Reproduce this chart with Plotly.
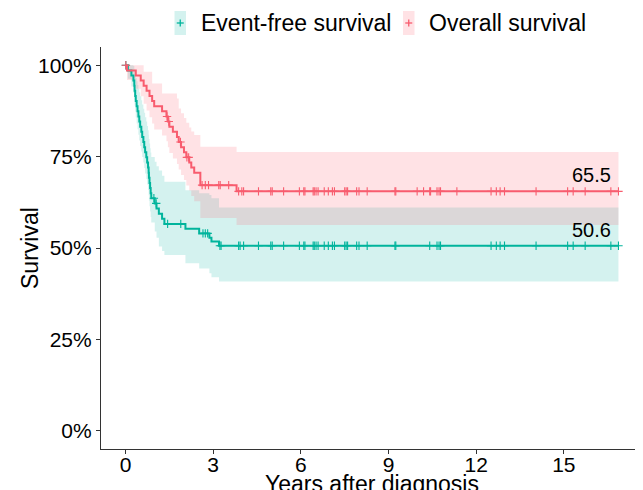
import numpy as np
import plotly.graph_objects as go

# ---------------- data ----------------
legend_labels = ["Event-free survival", "Overall survival"]

efs_years = [0.00, 0.08, 0.20, 0.27, 0.30, 0.31, 0.33, 0.35, 0.38, 0.41, 0.44, 0.47,
             0.50, 0.54, 0.57, 0.61, 0.64, 0.67, 0.71, 0.74, 0.77, 0.79, 0.80, 0.82,
             0.84, 0.86, 0.88, 1.00, 1.06, 1.14, 1.25, 1.33, 2.05, 2.52, 2.87, 2.94, 3.20]
efs_surv = [100.0, 98.6, 97.2, 95.8, 94.4, 93.0, 91.6, 90.2, 88.8, 87.4, 86.0, 84.6,
            83.2, 81.8, 80.4, 79.0, 77.6, 76.2, 74.8, 73.4, 72.0, 70.6, 69.2, 67.8,
            66.4, 65.0, 63.6, 62.2, 60.8, 59.4, 58.0, 56.6, 55.3, 54.0, 52.8, 51.8, 50.6]
efs_lower = [100.0, 96.3, 94.2, 92.4, 90.6, 88.9, 87.3, 85.7, 84.1, 82.5, 81.0, 79.4,
             77.9, 76.4, 74.9, 73.4, 71.9, 70.4, 68.9, 67.4, 65.9, 64.4, 62.9, 61.4,
             60.0, 58.5, 57.0, 54.5, 52.8, 50.4, 49.2, 48.1, 45.8, 44.4, 43.1, 42.0, 40.8]
efs_upper = [100.0, 100.0, 100.0, 99.8, 99.0, 98.3, 97.4, 96.5, 95.6, 94.6, 93.6, 92.6,
             91.5, 90.4, 89.3, 88.1, 87.0, 85.8, 84.6, 83.4, 82.2, 81.0, 79.8, 78.6,
             77.3, 76.1, 74.9, 73.6, 72.4, 71.2, 69.8, 68.1, 65.8, 65.0, 64.5, 63.6, 61.1]
efs_censored = [0.01, 0.97, 1.05, 1.44, 1.89, 2.65, 2.73, 2.81, 3.23, 3.27, 3.87, 3.92,
                4.04, 4.55, 4.97, 5.02, 5.41, 5.95, 6.10, 6.14, 6.42, 6.46, 6.52, 6.59,
                6.80, 6.94, 7.08, 7.15, 7.50, 7.55, 7.60, 7.91, 7.99, 8.27, 9.22, 9.25,
                10.41, 10.66, 10.73, 10.78, 12.51, 12.69, 12.82, 12.97, 14.05, 15.13,
                15.32, 15.73, 16.61, 16.87]

os_years = [0.00, 0.05, 0.35, 0.52, 0.62, 0.72, 0.82, 0.91, 0.98, 1.25, 1.40, 1.45,
            1.50, 1.62, 1.76, 1.82, 1.90, 2.00, 2.08, 2.18, 2.25, 2.35, 2.56, 3.80]
os_surv = [100.0, 98.6, 97.2, 95.8, 94.4, 93.0, 91.6, 90.2, 88.8, 87.4, 86.0, 84.6,
           83.2, 81.8, 80.4, 79.0, 77.6, 76.2, 74.8, 73.4, 72.0, 70.6, 67.2, 65.5]
os_lower = [100.0, 96.0, 93.6, 91.5, 89.5, 87.6, 85.8, 84.1, 82.4, 80.8, 79.2, 77.6,
            76.0, 74.5, 73.0, 71.5, 70.0, 68.6, 67.1, 65.7, 64.2, 62.8, 58.2, 56.3]
os_upper = [100.0, 100.0, 100.0, 100.0, 98.2, 98.2, 98.2, 95.0, 95.0, 92.3, 92.3, 92.3,
            92.3, 92.3, 90.9, 88.2, 86.9, 85.6, 84.3, 83.0, 81.9, 80.9, 77.7, 76.3]
os_censored = [0.01, 1.42, 1.48, 1.88, 2.10, 2.16, 2.62, 2.73, 2.84, 3.19, 3.24, 3.53,
               3.87, 3.98, 4.04, 4.55, 4.97, 5.02, 5.41, 5.95, 6.10, 6.14, 6.42, 6.46,
               6.52, 6.59, 6.80, 6.94, 7.08, 7.15, 7.50, 7.55, 7.60, 7.91, 7.99, 8.27,
               9.22, 9.25, 9.98, 10.20, 10.41, 10.44, 10.66, 10.73, 10.78, 11.34, 12.51,
               12.69, 12.82, 12.97, 14.05, 15.13, 15.32, 15.73, 16.61, 16.87]

label_values = ["50.6", "65.5"]
follow_up_end = 16.87
x_ticks = [0, 3, 6, 9, 12, 15]
y_ticks = [0, 25, 50, 75, 100]
y_tick_labels = ["0%", "25%", "50%", "75%", "100%"]

# ---------------- styling ----------------
FONT = "Liberation Sans, Arial, sans-serif"
TEAL = "#00B49C"
RED = "#F85C6E"
TEAL_FILL = "rgba(0,180,160,0.17)"
RED_FILL = "rgba(255,92,112,0.18)"

OFF = 8                      # page body margin of the browser
WIN_W, WIN_H = 643, 490
W, H = WIN_W - OFF, WIN_H - OFF
# plot panel in window pixels: left 101, right 643, top 47, bottom 449
ML, MR, MT, MB = 101 - OFF, 0, 47 - OFF, WIN_H - 449
PW, PH = W - ML - MR, H - MT - MB


def step_value(times, values, t):
    idx = np.searchsorted(np.asarray(times), t, side="right") - 1
    return np.asarray(values)[np.clip(idx, 0, len(values) - 1)]


groups = [
    (legend_labels[0], efs_years, efs_surv, efs_lower, efs_upper, efs_censored, TEAL, TEAL_FILL, label_values[0]),
    (legend_labels[1], os_years, os_surv, os_lower, os_upper, os_censored, RED, RED_FILL, label_values[1]),
]

fig = go.Figure()

# confidence bands
for name, t, s, lo, hi, cens, col, fill, lab in groups:
    tx = list(t) + [follow_up_end]
    fig.add_trace(go.Scatter(x=tx, y=list(lo) + [lo[-1]], mode="lines",
                             line=dict(width=0, shape="hv", color=col),
                             showlegend=False, hoverinfo="skip"))
    fig.add_trace(go.Scatter(x=tx, y=list(hi) + [hi[-1]], mode="lines",
                             line=dict(width=0, shape="hv", color=col),
                             fill="tonexty", fillcolor=fill,
                             showlegend=False, hoverinfo="skip"))

# survival curves + censor marks
for name, t, s, lo, hi, cens, col, fill, lab in groups:
    tx = list(t) + [follow_up_end]
    fig.add_trace(go.Scatter(x=tx, y=list(s) + [s[-1]], mode="lines",
                             line=dict(width=2, shape="hv", color=col),
                             name=name, showlegend=False))
    cy = step_value(t, s, np.asarray(cens))
    fig.add_trace(go.Scatter(x=cens, y=cy, mode="markers",
                             marker=dict(symbol="cross-thin", size=6,
                                         line=dict(width=1.1, color=col)),
                             showlegend=False, hoverinfo="skip"))
    fig.add_annotation(x=15.94, y=s[-1], text=lab, showarrow=False,
                       yshift=16, font=dict(family=FONT, size=20, color="black"))


def px_x(p):
    # window pixel -> paper x
    return (p - OFF - ML) / PW


def px_y(p):
    # window pixel -> paper y
    return (H - MB - (p - OFF)) / PH


# manual legend (top)
legend_items = [(174.5, 198.5, TEAL, TEAL_FILL, legend_labels[0]),
                (403.0, 427.0, RED, RED_FILL, legend_labels[1])]
for kx, tx0, col, fill, lab in legend_items:
    fig.add_shape(type="rect", xref="paper", yref="paper",
                  x0=px_x(kx), x1=px_x(kx + 11.5), y0=px_y(35), y1=px_y(11),
                  fillcolor=fill, line=dict(width=0))
    cx = kx + 5.75
    fig.add_shape(type="line", xref="paper", yref="paper",
                  x0=px_x(cx - 3.5), x1=px_x(cx + 3.5), y0=px_y(23), y1=px_y(23),
                  line=dict(color=col, width=1.3))
    fig.add_shape(type="line", xref="paper", yref="paper",
                  x0=px_x(cx), x1=px_x(cx), y0=px_y(19.5), y1=px_y(26.5),
                  line=dict(color=col, width=1.3))
    fig.add_annotation(xref="paper", yref="paper", x=px_x(tx0), y=px_y(23),
                       xanchor="left", yanchor="middle", text=lab, showarrow=False,
                       font=dict(family=FONT, size=23, color="black"))

# axis titles
fig.add_annotation(xref="paper", yref="paper", x=0.5, y=px_y(469),
                   xanchor="center", yanchor="top", text="Years after diagnosis",
                   showarrow=False, font=dict(family=FONT, size=23, color="black"))
fig.add_annotation(xref="paper", yref="paper", x=px_x(30), y=px_y(248),
                   xanchor="center", yanchor="middle", text="Survival", textangle=-90,
                   showarrow=False, font=dict(family=FONT, size=23, color="black"))

fig.update_layout(
    width=W, height=H,
    margin=dict(l=ML, r=MR, t=MT, b=MB, pad=0),
    paper_bgcolor="white", plot_bgcolor="white",
    showlegend=False,
    font=dict(family=FONT, color="black"),
    xaxis=dict(range=[-0.84, 17.71], tickvals=x_ticks, ticks="outside", ticklen=4,
               tickwidth=1, tickcolor="#333", showline=True, linecolor="#333", linewidth=1.2,
               showgrid=False, zeroline=False, ticklabelstandoff=-7,
               tickfont=dict(family=FONT, size=21, color="black")),
    yaxis=dict(range=[-5, 105], tickvals=y_ticks, ticktext=y_tick_labels, ticks="outside",
               ticklen=4, tickwidth=1, tickcolor="#333", showline=True, linecolor="#333",
               linewidth=1.2, showgrid=False, zeroline=False,
               tickfont=dict(family=FONT, size=21, color="black")),
)

fig.write_html("out.html")
